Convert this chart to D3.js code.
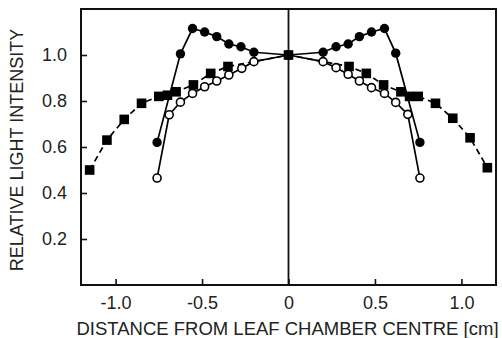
<!DOCTYPE html>
<html>
<head>
<meta charset="utf-8">
<script src="https://cdn.jsdelivr.net/npm/d3@7"></script>
<style>
  body { margin: 0; background: #fff; }
  svg text { font-family: "Liberation Sans", Arial, sans-serif; fill: #222; }
</style>
</head>
<body>
<div id="chart"></div>
<script>
// squares, dashed line
var squareX = [-1.15, -1.05, -0.95, -0.85, -0.75, -0.70, -0.65, -0.55, -0.45, -0.35, 0, 0.35, 0.45, 0.55, 0.65, 0.70, 0.75, 0.85, 0.95, 1.05, 1.15];
var squareY = [0.50, 0.63, 0.72, 0.79, 0.82, 0.825, 0.84, 0.87, 0.92, 0.95, 1.0, 0.95, 0.92, 0.87, 0.84, 0.82, 0.82, 0.79, 0.725, 0.64, 0.51];

// filled circles
var filledX = [-0.76, -0.625, -0.555, -0.485, -0.415, -0.345, -0.275, -0.2, 0, 0.2, 0.275, 0.345, 0.41, 0.48, 0.555, 0.62, 0.76];
var filledY = [0.62, 1.005, 1.115, 1.10, 1.08, 1.048, 1.036, 1.012, 1.0, 1.012, 1.036, 1.048, 1.08, 1.10, 1.115, 1.008, 0.62];

// open circles
var openX = [-0.76, -0.69, -0.625, -0.555, -0.485, -0.415, -0.345, -0.27, -0.2, 0, 0.2, 0.275, 0.345, 0.41, 0.48, 0.555, 0.62, 0.69, 0.76];
var openY = [0.465, 0.74, 0.795, 0.833, 0.862, 0.887, 0.913, 0.942, 0.971, 1.0, 0.971, 0.945, 0.916, 0.887, 0.858, 0.833, 0.794, 0.742, 0.465];

var xTicks = [-1.0, -0.5, 0, 0.5, 1.0];
var xTickLabels = ["-1.0", "-0.5", "0", "0.5", "1.0"];
var yTicks = [0.2, 0.4, 0.6, 0.8, 1.0];
var yTickLabels = ["0.2", "0.4", "0.6", "0.8", "1.0"];

var width = 502;
var height = 338;

var x = d3.scaleLinear().domain([-1.2, 1.2]).range([81, 496]);
var y = d3.scaleLinear().domain([0, 1.2]).range([285, 9]);

var svg = d3.select("#chart")
    .append("svg")
    .attr("width", width)
    .attr("height", height);

function pts(xs, ys) {
    return xs.map(function (d, i) { return [d, ys[i]]; });
}

var line = d3.line()
    .x(function (d) { return x(d[0]); })
    .y(function (d) { return y(d[1]); });

// x axis, ticks pointing inward
var xAxis = svg.append("g")
    .attr("transform", "translate(0," + y(0) + ")")
    .call(d3.axisBottom(x)
        .tickValues(xTicks)
        .tickSize(-6)
        .tickPadding(20)
        .tickFormat(function (d, i) { return xTickLabels[i]; }));
xAxis.select(".domain").remove();
xAxis.selectAll("line").attr("stroke", "#111").attr("stroke-width", 1.6);
xAxis.selectAll("text").style("font-size", "18px").attr("dy", "0.2em");

// y axis
var yAxis = svg.append("g")
    .attr("transform", "translate(" + x(-1.2) + ",0)")
    .call(d3.axisLeft(y)
        .tickValues(yTicks)
        .tickSize(-6)
        .tickPadding(14)
        .tickFormat(function (d, i) { return yTickLabels[i]; }));
yAxis.select(".domain").remove();
yAxis.selectAll("line").attr("stroke", "#111").attr("stroke-width", 1.6);
yAxis.selectAll("text").style("font-size", "18px");

// frame
svg.append("rect")
    .attr("x", x(-1.2))
    .attr("y", y(1.2))
    .attr("width", x(1.2) - x(-1.2))
    .attr("height", y(0) - y(1.2))
    .attr("fill", "none")
    .attr("stroke", "#111")
    .attr("stroke-width", 2);

// centre line
svg.append("line")
    .attr("x1", x(0)).attr("x2", x(0))
    .attr("y1", y(1.2)).attr("y2", y(0))
    .attr("stroke", "#111")
    .attr("stroke-width", 1.8);

// lines
svg.append("path")
    .attr("d", line(pts(squareX, squareY)))
    .attr("fill", "none")
    .attr("stroke", "#000")
    .attr("stroke-width", 1.7)
    .attr("stroke-dasharray", "6,4");

svg.append("path")
    .attr("d", line(pts(openX, openY)))
    .attr("fill", "none")
    .attr("stroke", "#000")
    .attr("stroke-width", 1.7);

svg.append("path")
    .attr("d", line(pts(filledX, filledY)))
    .attr("fill", "none")
    .attr("stroke", "#000")
    .attr("stroke-width", 1.7);

// markers
svg.selectAll("rect.sq")
    .data(pts(squareX, squareY))
    .enter()
    .append("rect")
    .attr("class", "sq")
    .attr("x", function (d) { return x(d[0]) - 4.8; })
    .attr("y", function (d) { return y(d[1]) - 4.8; })
    .attr("width", 9.6)
    .attr("height", 9.6)
    .attr("fill", "#000");

svg.selectAll("circle.open")
    .data(pts(openX, openY))
    .enter()
    .append("circle")
    .attr("class", "open")
    .attr("cx", function (d) { return x(d[0]); })
    .attr("cy", function (d) { return y(d[1]); })
    .attr("r", 4)
    .attr("fill", "#fff")
    .attr("stroke", "#000")
    .attr("stroke-width", 1.6);

svg.selectAll("circle.filled")
    .data(pts(filledX, filledY))
    .enter()
    .append("circle")
    .attr("class", "filled")
    .attr("cx", function (d) { return x(d[0]); })
    .attr("cy", function (d) { return y(d[1]); })
    .attr("r", 4.7)
    .attr("fill", "#000");

// axis titles
svg.append("text")
    .attr("x", 287.5)
    .attr("y", 335)
    .attr("text-anchor", "middle")
    .style("font-size", "18.5px")
    .text("DISTANCE FROM LEAF CHAMBER CENTRE [cm]");

svg.append("text")
    .attr("transform", "translate(23," + 150 + ") rotate(-90)")
    .attr("text-anchor", "middle")
    .style("font-size", "18px")
    .text("RELATIVE LIGHT INTENSITY");
</script>
</body>
</html>
